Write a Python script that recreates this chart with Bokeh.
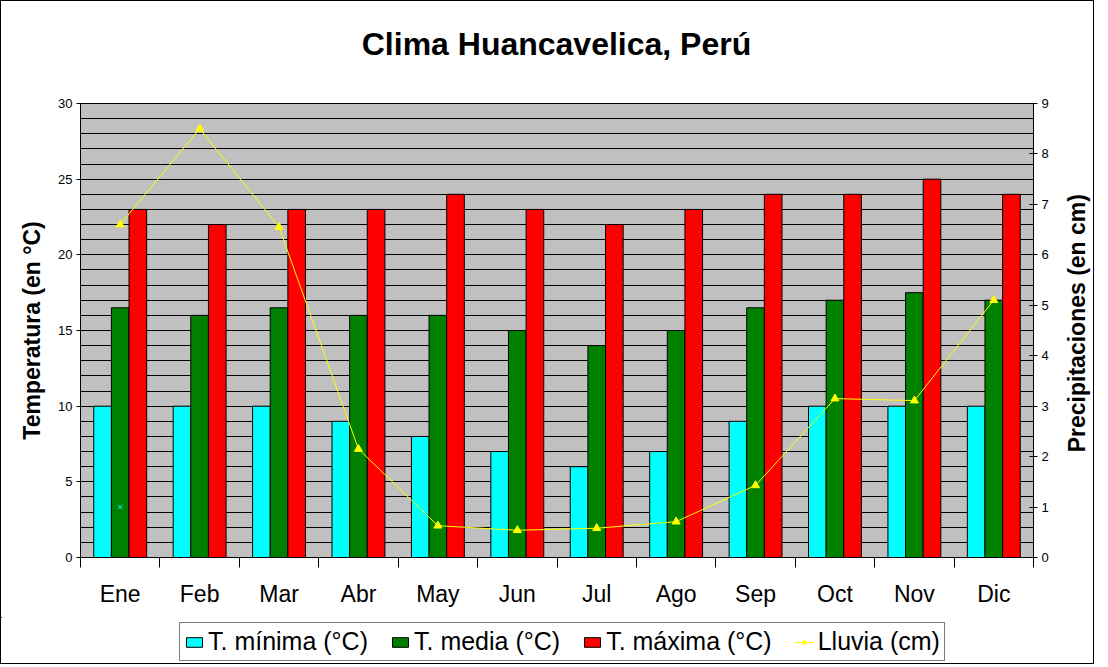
import math
from bokeh.plotting import figure
from bokeh.layouts import column, row
from bokeh.models import (Range1d, LinearAxis, FixedTicker, SingleIntervalTicker,
                          Legend, LegendItem, Label, ColumnDataSource)
from bokeh.transform import dodge
from bokeh.embed import file_html
from bokeh.resources import INLINE

titulo = "Clima Huancavelica, Perú"
meses = ["Ene", "Feb", "Mar", "Abr", "May", "Jun", "Jul", "Ago", "Sep", "Oct", "Nov", "Dic"]
t_minima = [10, 10, 10, 9, 8, 7, 6, 7, 9, 10, 10, 10]
t_media = [16.5, 16, 16.5, 16, 16, 15, 14, 15, 16.5, 17, 17.5, 17]
t_maxima = [23, 22, 23, 23, 24, 23, 22, 23, 24, 24, 25, 24]
lluvia = [6.6, 8.5, 6.55, 2.15, 0.63, 0.54, 0.58, 0.71, 1.43, 3.15, 3.11, 5.1]
# marca suelta que aparece en Ene
marca_x = [0]
marca_y = [1.0]

FONT = "Liberation Sans"
C_MIN, C_MED, C_MAX, C_LLUVIA = "#00ffff", "#008000", "#ff0000", "#ffff00"
ANCHO = 1092

pos = list(range(len(meses)))
src = ColumnDataSource(dict(x=pos, t_minima=t_minima, t_media=t_media,
                            t_maxima=t_maxima, lluvia=lluvia))


def panel_vacio(width, height, x_range, y_range):
    f = figure(width=width, height=height, output_backend="svg", toolbar_location=None,
               x_axis_type=None, y_axis_type=None, min_border=0,
               x_range=x_range, y_range=y_range)
    f.outline_line_color = None
    f.grid.visible = False
    f.border_fill_color = "white"
    f.background_fill_color = "white"
    return f


# titulo
top = panel_vacio(ANCHO, 60, Range1d(0, ANCHO), Range1d(60, 0))
top.add_layout(Label(x=555, y=42, text=titulo, text_align="center", text_baseline="middle",
                     text_font=FONT, text_font_size="32px", text_font_style="bold",
                     text_color="black"))

# grafico principal
p = figure(frame_width=953, frame_height=454, output_backend="svg", toolbar_location=None,
           x_range=Range1d(-0.5, len(meses) - 0.5), y_range=Range1d(0, 30),
           min_border_left=79, min_border_right=28, min_border_top=42, min_border_bottom=60)
p.extra_y_ranges = {"lluvia": Range1d(0, 9)}

p.background_fill_color = "#c0c0c0"
p.border_fill_color = "white"
p.outline_line_color = "black"
p.xgrid.visible = False
p.ygrid.ticker = SingleIntervalTicker(interval=1, num_minor_ticks=0)
p.ygrid.grid_line_color = "black"
p.ygrid.grid_line_alpha = 1

w = 0.222
p.vbar(x=dodge("x", -w, range=p.x_range), top="t_minima", width=w, source=src,
       fill_color=C_MIN, line_color="black")
p.vbar(x="x", top="t_media", width=w, source=src, fill_color=C_MED, line_color="black")
p.vbar(x=dodge("x", w, range=p.x_range), top="t_maxima", width=w, source=src,
       fill_color=C_MAX, line_color="black")

p.line("x", "lluvia", source=src, y_range_name="lluvia", line_color=C_LLUVIA, line_width=1)
p.scatter("x", "lluvia", source=src, y_range_name="lluvia", marker="triangle",
          size=8, fill_color=C_LLUVIA, line_color=C_LLUVIA)
p.scatter(marca_x, marca_y, y_range_name="lluvia", marker="x", size=6, line_color=C_MIN)

# eje x: etiquetas al centro, marcas entre categorias
xa = p.xaxis[0]
xa.ticker = FixedTicker(ticks=pos, minor_ticks=[i - 0.5 for i in range(len(meses) + 1)])
xa.major_label_overrides = {i: m for i, m in enumerate(meses)}
xa.major_tick_in = 0
xa.major_tick_out = 0
xa.minor_tick_in = 0
xa.minor_tick_out = 10
xa.major_label_standoff = 13
xa.major_label_text_font = FONT
xa.major_label_text_font_size = "23px"
xa.major_label_text_color = "black"
xa.axis_line_color = "black"
xa.minor_tick_line_color = "black"

ya = p.yaxis[0]
ya.ticker = SingleIntervalTicker(interval=5, num_minor_ticks=0)
ya.axis_label = "Temperatura (en °C)"
ya.axis_label_text_font = FONT
ya.axis_label_text_font_size = "23px"
ya.axis_label_text_font_style = "bold"
ya.axis_label_text_color = "black"
ya.axis_label_standoff = 10

yb = LinearAxis(y_range_name="lluvia",
                ticker=SingleIntervalTicker(interval=1, num_minor_ticks=0))
p.add_layout(yb, "right")

for ax in (ya, yb):
    ax.major_tick_in = 4
    ax.major_tick_out = 4
    ax.minor_tick_line_color = None
    ax.axis_line_color = "black"
    ax.major_tick_line_color = "black"
    ax.major_label_text_font = FONT
    ax.major_label_text_font_size = "13px"
    ax.major_label_text_color = "black"
    ax.major_label_standoff = 4

# titulo del eje derecho, leido de abajo hacia arriba
der = panel_vacio(ANCHO - 79 - 953 - 28, 556, Range1d(0, 32), Range1d(556, 0))
der.add_layout(Label(x=15, y=269, text="Precipitaciones (en cm)", angle=math.pi / 2,
                     text_align="center", text_baseline="middle", text_font=FONT,
                     text_font_size="23px", text_font_style="bold", text_color="black"))

# leyenda en una figura aparte, debajo del grafico (sus glifos quedan fuera de vista)
lg = panel_vacio(ANCHO, 46, Range1d(100, 101), Range1d(-101, -100))
r_min = lg.vbar(x="x", top="t_minima", width=w, source=src, fill_color=C_MIN, line_color="black")
r_med = lg.vbar(x="x", top="t_media", width=w, source=src, fill_color=C_MED, line_color="black")
r_max = lg.vbar(x="x", top="t_maxima", width=w, source=src, fill_color=C_MAX, line_color="black")
r_line = lg.line("x", "lluvia", source=src, line_color=C_LLUVIA, line_width=1)
r_pts = lg.scatter("x", "lluvia", source=src, marker="triangle", size=8,
                   fill_color=C_LLUVIA, line_color=C_LLUVIA)

legend = Legend(items=[
    LegendItem(label="T. mínima (°C)", renderers=[r_min]),
    LegendItem(label="T. media (°C)", renderers=[r_med]),
    LegendItem(label="T. máxima (°C)", renderers=[r_max]),
    LegendItem(label="Lluvia (cm)", renderers=[r_line, r_pts]),
], orientation="horizontal", location=(178, 2))
legend.label_text_font = FONT
legend.label_text_font_size = "25px"
legend.label_text_color = "black"
legend.glyph_width = 20
legend.glyph_height = 12
legend.label_standoff = 4
legend.spacing = 22
legend.padding = 4
legend.margin = 0
legend.border_line_color = "black"
legend.border_line_width = 1
legend.background_fill_color = "white"
lg.add_layout(legend, "center")

layout = column(top, row(p, der, spacing=0), lg, spacing=0)
layout.styles = {"border": "1px solid black"}

open("out.html", "w").write(file_html(layout, INLINE))
